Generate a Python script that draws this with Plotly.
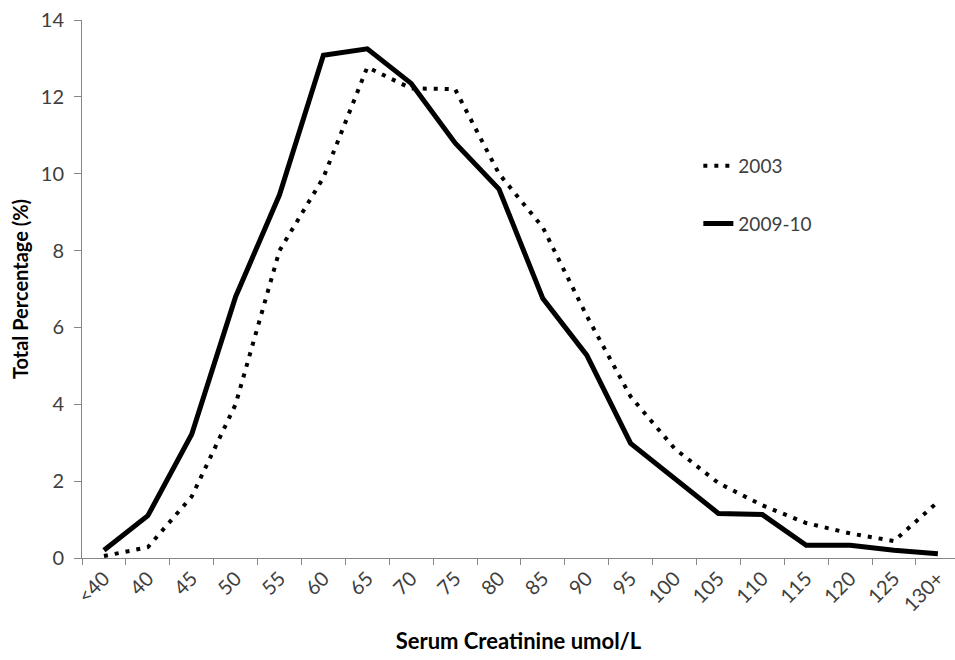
import plotly.graph_objects as go

categories = ["<40", "40", "45", "50", "55", "60", "65", "70", "75", "80",
              "85", "90", "95", "100", "105", "110", "115", "120", "125", "130+"]
pct_2003 = [0.05, 0.28, 1.6, 4.0, 8.0, 9.9, 12.77, 12.22, 12.2, 10.0,
            8.6, 6.3, 4.2, 2.85, 1.95, 1.37, 0.91, 0.64, 0.44, 1.46]
pct_2009 = [0.2, 1.1, 3.22, 6.8, 9.45, 13.08, 13.25, 12.35, 10.8, 9.6,
            6.75, 5.28, 2.98, 2.08, 1.16, 1.13, 0.33, 0.33, 0.2, 0.11]
y_ticks = [0, 2, 4, 6, 8, 10, 12, 14]

fig = go.Figure()
fig.add_trace(go.Scatter(
    x=categories, y=pct_2003, mode="lines", name="2003",
    line=dict(color="black", width=4, dash="4px,7px"),
    legendgroup="a",
))
fig.add_trace(go.Scatter(
    x=categories, y=pct_2009, mode="lines", name="2009-10",
    line=dict(color="black", width=5),
    legendgroup="b",
))

axis_grey = "#868686"
label_color = "#404040"
fig.update_layout(
    width=955, height=660,
    margin=dict(l=82, r=0, t=20, b=102),
    plot_bgcolor="white", paper_bgcolor="white",
    font=dict(family="Lato, Open Sans, sans-serif", color=label_color, size=20),
    showlegend=True,
    legend=dict(
        x=0.706, y=0.675, xanchor="left", yanchor="middle",
        bgcolor="rgba(0,0,0,0)", font=dict(size=19, color=label_color),
        tracegroupgap=30, traceorder="grouped",
    ),
    xaxis=dict(
        type="category", categoryorder="array", categoryarray=categories,
        range=[-0.5, 19.39], tickson="boundaries",
        showline=True, linecolor=axis_grey, linewidth=1,
        ticks="outside", ticklen=6, tickcolor=axis_grey,
        tickangle=-45, showgrid=False, zeroline=False,
        tickfont=dict(size=20, color=label_color),
        title=dict(text="<b>Serum Creatinine umol/L</b>",
                   font=dict(size=22, color="black"), standoff=18),
    ),
    yaxis=dict(
        range=[0, 14], tickvals=y_ticks,
        showline=True, linecolor=axis_grey, linewidth=1,
        ticks="outside", ticklen=7, tickcolor=axis_grey,
        ticklabelstandoff=6,
        showgrid=False, zeroline=False,
        tickfont=dict(size=20, color=label_color),
        title=dict(text="<b>Total Percentage (%)</b>",
                   font=dict(size=20, color="black"), standoff=6),
    ),
)

fig.write_html("out.html")
